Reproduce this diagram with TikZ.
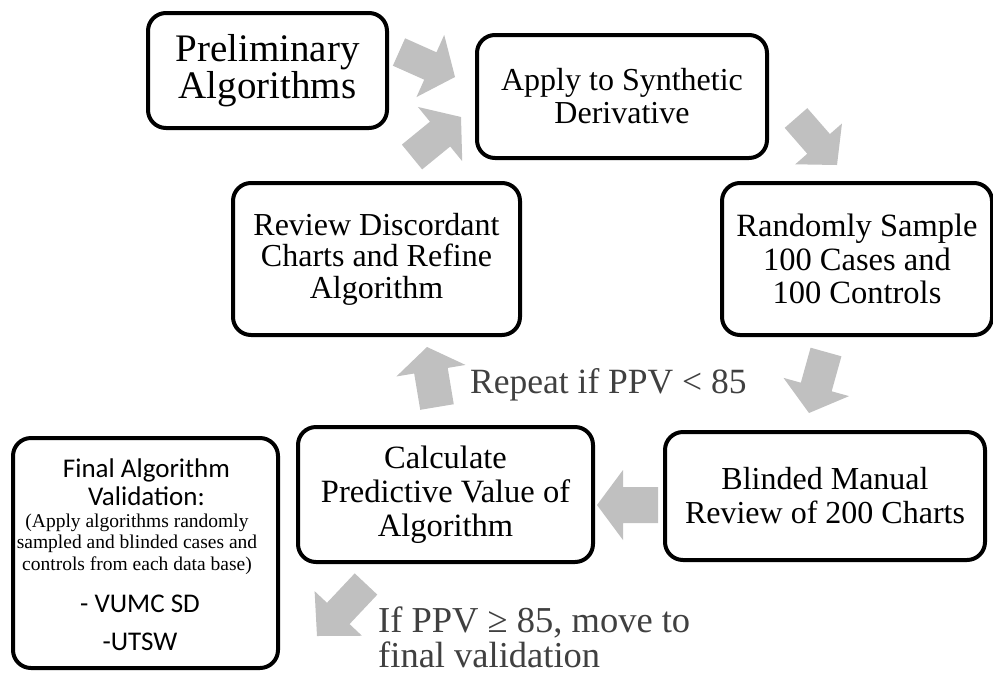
\documentclass[tikz,border=0pt]{standalone}
\usepackage{fontspec}
\setmainfont{Liberation Serif}
\newfontfamily\calib{Carlito}
\usetikzlibrary{calc}
\definecolor{arrowgray}{RGB}{192,192,192}
\definecolor{labelgray}{RGB}{64,64,64}
% #1 name, #2 tail centre, #3 tip, #4 shaft half width, #5 head half width, #6 head length
\newcommand\blockarrow[6]{%
  \coordinate (#1-t) at (#2);
  \coordinate (#1-p) at (#3);
  \coordinate (#1-h) at ($(#1-p)!#6!(#1-t)$);
  \fill[arrowgray] ($(#1-t)!#4!90:(#1-p)$) -- ($(#1-h)!#4!90:(#1-p)$)
    -- ($(#1-h)!#5!90:(#1-p)$) -- (#1-p) -- ($(#1-h)!#5!-90:(#1-p)$)
    -- ($(#1-h)!#4!-90:(#1-p)$) -- ($(#1-t)!#4!-90:(#1-p)$) -- cycle;}
\tikzset{
  procbox/.style={draw=black, line width=4pt, rounded corners=18pt, align=center,
    inner sep=0pt, fill=white, font=\fontsize{32.5}{33.5}\selectfont},
  lbl/.style={text=labelgray, inner sep=0pt, font=\fontsize{35.5}{35}\selectfont},
  sanstxt/.style={inner sep=0pt, anchor=base, font=\calib\fontsize{27}{28}\selectfont},
  smalltxt/.style={inner sep=0pt, anchor=base, font=\fontsize{19.5}{21.5}\selectfont}
}
\begin{document}
\begin{tikzpicture}[x=1pt,y=-1pt]
\useasboundingbox (0,0) rectangle (993,673);
\fill[white] (0,0) rectangle (993,673);

% boxes
\node[procbox, minimum width=239pt, minimum height=115pt, font=\fontsize{39}{35}\selectfont] (prelim) at (267.5,70.5) {Preliminary\\Algorithms};
\node[procbox, minimum width=290pt, minimum height=123pt, font=\fontsize{32}{33}\selectfont] (apply) at (622,96.5) {Apply to Synthetic\\Derivative};
\node[procbox, minimum width=270pt, minimum height=152pt] (sample) at (857,259) {Randomly Sample\\100 Cases and\\100 Controls};
\node[procbox, minimum width=287pt, minimum height=152pt, font=\fontsize{32}{31.5}\selectfont] (review) at (376.5,259) {Review Discordant\\Charts and Refine\\Algorithm};
\node[procbox, minimum width=320pt, minimum height=128pt, font=\fontsize{32}{34}\selectfont] (blinded) at (825,496) {Blinded Manual\\Review of 200 Charts};
\node[procbox, minimum width=295pt, minimum height=135pt, font=\fontsize{32.5}{34}\selectfont] (calc) at (445.5,494.5) {Calculate\\Predictive Value of\\Algorithm};
\node[procbox, minimum width=265pt, minimum height=230pt] (final) at (145.5,553) {};

% final box text
\node[sanstxt] (f1) at (146.5,477) {Final Algorithm};
\node[sanstxt] (f2) at (146.5,505) {Validation:};
\node[smalltxt] (f3) at (137,527) {(Apply algorithms randomly};
\node[smalltxt] (f4) at (137,548) {sampled and blinded cases and};
\node[smalltxt] (f5) at (137,570) {controls from each data base)};
\node[sanstxt] (f6) at (140,612) {- VUMC SD};
\node[sanstxt] (f7) at (140,650) {-UTSW};

% block arrows
\blockarrow{a1}{399,52}{455,77}{15pt}{34pt}{27pt}
\blockarrow{a2}{412,157}{461,117}{16pt}{35pt}{27pt}
\blockarrow{a3}{796,118}{837,165}{15pt}{31pt}{28pt}
\blockarrow{a4}{826,352}{809,413}{16pt}{34pt}{27pt}
\blockarrow{a5}{658,505}{597,505}{18pt}{35pt}{26pt}
\blockarrow{a6}{437,407}{427,347}{17pt}{35pt}{24pt}
\blockarrow{a7}{366,584}{317,636}{15.5pt}{32.5pt}{31pt}

% labels
\node[lbl, anchor=base west] (repeat) at (470,393) {Repeat if PPV < 85};
\node[lbl, anchor=base west, font=\fontsize{36.5}{35}\selectfont] (ifppv) at (378,632) {If PPV ≥ 85, move to};
\node[lbl, anchor=base west, font=\fontsize{36.5}{35}\selectfont] (ifppv2) at (378,667) {final validation};
\end{tikzpicture}
\end{document}
